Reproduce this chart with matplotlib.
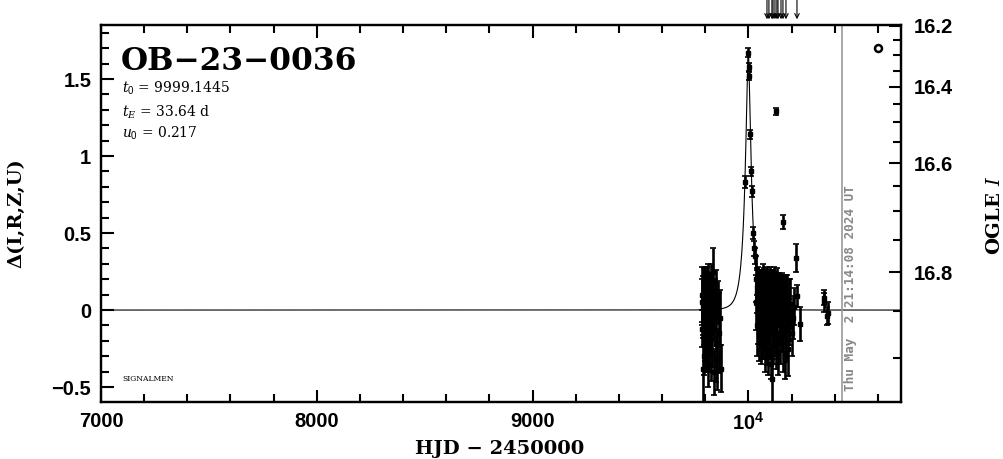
import numpy as np
import matplotlib
matplotlib.use("Agg")
import matplotlib.pyplot as plt
from matplotlib.ticker import MultipleLocator, FixedLocator
import matplotlib.transforms as mtransforms

# microlensing model parameters (from the chart)
t0 = 9999.1445
tE = 33.64
u0 = 0.217

# OGLE I baseline and blending used for the right axis
I_base = 16.849
f_s = 0.183

# peak and falling wing
t_peak = [9983.6, 9997.0, 10002.4, 10004.0, 10009.0, 10013.0, 10016.0, 10023.0, 10027.0, 10030.0]
d_peak = [0.83, 1.67, 1.58, 1.52, 1.14, 0.90, 0.77, 0.50, 0.40, 0.35]
e_peak = [0.04, 0.03, 0.025, 0.025, 0.03, 0.03, 0.035, 0.04, 0.05, 0.05]

# first season cluster
t_s1 = [9784, 9786, 9787, 9788, 9790, 9792, 9793, 9795, 9796, 9798,
        9799, 9801, 9802, 9804, 9805, 9807, 9808, 9810, 9812, 9813,
        9815, 9817, 9819, 9821, 9823, 9825, 9828, 9830, 9833, 9836,
        9839, 9842, 9845, 9848, 9852, 9856, 9860, 9865, 9870, 9875]
d_s1 = [0.05, -0.12, 0.10, -0.38, 0.02, 0.15, -0.08, -0.30, 0.08, -0.02,
        0.18, -0.15, 0.00, 0.12, -0.25, 0.05, -0.10, 0.20, -0.05, -0.35,
        0.10, 0.03, -0.18, 0.14, -0.06, 0.22, -0.28, 0.04, -0.12, 0.25,
        -0.40, 0.00, 0.08, -0.22, 0.10, -0.32, 0.05, -0.15, -0.05, -0.38]
e_s1 = [0.15, 0.12, 0.18, 0.22, 0.20, 0.12, 0.15, 0.12, 0.14, 0.22,
        0.10, 0.18, 0.25, 0.12, 0.15, 0.20, 0.28, 0.08, 0.18, 0.15,
        0.20, 0.12, 0.22, 0.10, 0.24, 0.08, 0.18, 0.20, 0.25, 0.15,
        0.15, 0.20, 0.12, 0.25, 0.16, 0.20, 0.14, 0.26, 0.18, 0.15]

# second season cluster
t_s2 = [10034, 10036, 10038, 10040, 10042, 10044, 10046, 10048, 10050, 10052, 10054, 10056,
        10058, 10060, 10062, 10064, 10066, 10068, 10070, 10072, 10074, 10076, 10078, 10080,
        10082, 10084, 10086, 10088, 10090, 10092, 10094, 10096, 10098, 10100, 10102, 10104,
        10106, 10108, 10110, 10112, 10114, 10116, 10118, 10120, 10122, 10124, 10126, 10129,
        10131, 10133, 10136, 10139, 10142, 10145, 10148, 10151, 10154, 10157, 10160, 10163,
        10166, 10169, 10172, 10175, 10178, 10182, 10186, 10190, 10195, 10200, 10206, 10212]
d_s2 = [0.20, 0.05, 0.15, -0.10, 0.12, 0.00, 0.18, -0.15, 0.08, -0.05, 0.14, -0.20,
        0.06, 0.16, -0.08, 0.02, 0.20, -0.12, 0.10, -0.02, 0.15, -0.25, 0.05, 0.12,
        -0.10, 0.00, 0.18, -0.18, 0.08, -0.30, 0.10, 0.02, 0.16, -0.12, 0.06, -0.35,
        0.12, -0.05, -0.45, 0.08, 0.14, -0.15, 0.00, 0.18, -0.08, 0.10, -0.20, 0.04,
        0.15, -0.10, 0.06, -0.28, 0.12, 0.00, -0.15, 0.08, -0.05, 0.14, -0.22, 0.02,
        0.10, -0.30, 0.05, -0.12, 0.08, -0.25, 0.00, -0.08, 0.04, -0.15, -0.05, 0.02]
e_s2 = [0.15, 0.18, 0.12, 0.20, 0.14, 0.22, 0.10, 0.18, 0.16, 0.20, 0.12, 0.15,
        0.20, 0.10, 0.22, 0.18, 0.10, 0.20, 0.15, 0.24, 0.12, 0.15, 0.20, 0.14,
        0.22, 0.25, 0.10, 0.18, 0.16, 0.12, 0.15, 0.24, 0.12, 0.20, 0.18, 0.10,
        0.14, 0.22, 0.18, 0.16, 0.12, 0.20, 0.24, 0.10, 0.22, 0.15, 0.18, 0.20,
        0.12, 0.22, 0.16, 0.14, 0.12, 0.22, 0.20, 0.15, 0.22, 0.10, 0.18, 0.20,
        0.12, 0.15, 0.18, 0.22, 0.15, 0.18, 0.20, 0.15, 0.16, 0.15, 0.14, 0.12]

# sparse later points
t_late = [10128, 10160, 10221, 10225, 10239, 10348, 10352, 10365, 10368]
d_late = [1.29, 0.57, 0.34, 0.09, -0.09, 0.08, 0.05, -0.04, -0.02]
e_late = [0.025, 0.045, 0.09, 0.07, 0.11, 0.05, 0.06, 0.06, 0.07]

# open circle point
t_circ = [10600]
d_circ = [1.70]

# arrows above the frame
t_arrows = [10086, 10095, 10109, 10114, 10123, 10132, 10137, 10151, 10160, 10174, 10225]

t_now = 10433.4
now_label = "Thu May  2 21:14:08 2024 UT"

x_ticks = [7000, 8000, 9000, 10000]
x_labels = ["7000", "8000", "9000", r"10$^{\mathbf{4}}$"]
y_ticks = [-0.5, 0, 0.5, 1, 1.5]
y_labels = ["\u22120.5", "0", "0.5", "1", "1.5"]
I_major = [16.2, 16.4, 16.6, 16.8]
I_minor = [16.25, 16.3, 16.35, 16.45, 16.5, 16.55, 16.65, 16.7, 16.75, 16.85, 16.9]


def delta_from_mag(m):
    m = np.asarray(m, dtype=float)
    A = (10 ** (-0.4 * (m - I_base)) - (1 - f_s)) / f_s
    return 2.5 * np.log10(A)


tick_font = ["Liberation Sans", "DejaVu Sans"]
plt.rcParams["mathtext.fontset"] = "custom"
plt.rcParams["mathtext.rm"] = "Liberation Sans"
plt.rcParams["mathtext.bf"] = "Liberation Sans:bold"
plt.rcParams["mathtext.it"] = "DejaVu Serif:italic"

fig = plt.figure(figsize=(10.04, 4.59), dpi=100)
ax = fig.add_axes([0.1006, 0.1242, 0.7968, 0.8214])
ax.set_xlim(7000, 10707)
ax.set_ylim(-0.597, 1.851)

# model curve
tt = np.linspace(7000, 10707, 6000)
u = np.sqrt(u0 ** 2 + ((tt - t0) / tE) ** 2)
A = (u ** 2 + 2) / (u * np.sqrt(u ** 2 + 4))
ax.plot(tt, 2.5 * np.log10(A), color="black", lw=0.8)

eb = dict(fmt="s", ms=2.5, color="black", ecolor="black", elinewidth=1.9, capsize=2.0, capthick=1.2)
ax.errorbar(t_s1, d_s1, yerr=e_s1, **eb)
ax.errorbar(t_s2, d_s2, yerr=e_s2, **eb)
ax.errorbar(t_peak, d_peak, yerr=e_peak, **eb)
ax.errorbar(t_late, d_late, yerr=e_late, **eb)
ax.plot(t_circ, d_circ, "o", mfc="none", mec="black", mew=1.8, ms=5)

# current date line
ax.axvline(t_now, color="#999999", lw=1.2)
off = mtransforms.offset_copy(ax.get_xaxis_transform(), fig=fig, x=2, y=0, units="dots")
ax.text(t_now, 0.03, now_label, transform=off, rotation=90, ha="left", va="bottom",
        color="#888888", fontsize=9.2, fontweight="bold", family="DejaVu Sans Mono")

for t in t_arrows:
    ax.annotate("", xy=(t, 0.958), xytext=(t, 1.0),
                xycoords=("data", "figure fraction"), textcoords=("data", "figure fraction"),
                arrowprops=dict(arrowstyle="->", lw=0.8, color="black",
                                shrinkA=0, shrinkB=0, mutation_scale=8))

# text annotations
ax.text(7090, 1.56, "OB\u221223\u22120036", fontsize=22.5, fontweight="bold",
        family="DejaVu Serif", va="baseline")
ax.text(7097, 1.415, r"$t_0$ = 9999.1445", fontsize=10, family="DejaVu Serif", va="baseline")
ax.text(7097, 1.253, r"$t_{E}$ = 33.64 d", fontsize=10, family="DejaVu Serif", va="baseline")
ax.text(7097, 1.117, r"$u_0$ = 0.217", fontsize=10, family="DejaVu Serif", va="baseline")
ax.text(7097, -0.46, "SIGNALMEN", fontsize=5.5, family="DejaVu Serif", va="baseline")

# axes styling
for s in ax.spines.values():
    s.set_linewidth(1.6)
ax.set_xticks(x_ticks)
ax.set_xticklabels(x_labels)
ax.xaxis.set_minor_locator(MultipleLocator(200))
ax.set_yticks(y_ticks)
ax.set_yticklabels(y_labels)
ax.yaxis.set_minor_locator(MultipleLocator(0.1))
ax.tick_params(which="both", direction="in", top=True, right=False, width=1.5)
ax.tick_params(which="major", length=9, labelsize=14.5, pad=7)
ax.tick_params(which="minor", length=5.5)
for lab in ax.get_xticklabels() + ax.get_yticklabels():
    lab.set_family(tick_font)
    lab.set_fontweight("bold")

ax2 = ax.twinx()
ax2.set_ylim(ax.get_ylim())
ax2.yaxis.set_major_locator(FixedLocator(delta_from_mag(I_major)))
ax2.yaxis.set_minor_locator(FixedLocator(delta_from_mag(I_minor)))
ax2.set_yticklabels([f"{m:.1f}" for m in I_major])
ax2.tick_params(which="both", direction="in", width=1.5)
ax2.tick_params(which="major", length=9, labelsize=14.5, pad=9)
ax2.tick_params(which="minor", length=5.5)
for lab in ax2.get_yticklabels():
    lab.set_family(tick_font)
    lab.set_fontweight("bold")
for s in ax2.spines.values():
    s.set_linewidth(1.6)

fig.text(0.016, 0.535, "\u0394(I,R,Z,U)", rotation=90, ha="center", va="center",
         fontsize=14, fontweight="bold", family="DejaVu Serif")
fig.text(0.498, 0.022, "HJD \u2212 2450000", ha="center", va="center",
         fontsize=14, fontweight="bold", family="DejaVu Serif")
fig.text(0.991, 0.53, r"OGLE $I$", rotation=90, ha="center", va="center",
         fontsize=14, fontweight="bold", family="DejaVu Serif")

fig.savefig("out.png", dpi=100)
